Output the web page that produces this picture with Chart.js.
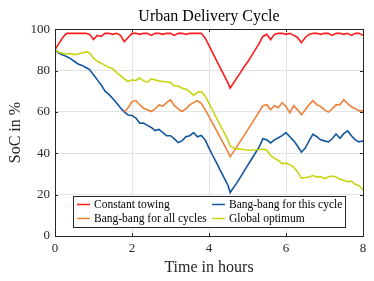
<!DOCTYPE html>
<html>
<head>
<meta charset="utf-8">
<script src="https://cdn.jsdelivr.net/npm/chart.js@4"></script>
<style>
  body { margin: 0; background: #fff; }
  canvas { display: block; }
</style>
</head>
<body>
<canvas id="myChart" width="374" height="281"></canvas>
<script>
// time in hours (4.55 is where the dips bottom out)
const hours = [0, 0.1, 0.2, 0.3, 0.4, 0.5, 0.6, 0.7, 0.8, 0.9,
  1.0, 1.1, 1.2, 1.3, 1.4, 1.5, 1.6, 1.7, 1.8, 1.9,
  2.0, 2.1, 2.2, 2.3, 2.4, 2.5, 2.6, 2.7, 2.8, 2.9,
  3.0, 3.1, 3.2, 3.3, 3.4, 3.5, 3.6, 3.7, 3.8, 3.9,
  4.0, 4.1, 4.2, 4.3, 4.4, 4.5, 4.55, 4.7, 4.8, 4.9,
  5.0, 5.1, 5.2, 5.3, 5.4, 5.5, 5.6, 5.7, 5.8, 5.9,
  6.0, 6.1, 6.2, 6.3, 6.4, 6.5, 6.6, 6.7, 6.8, 6.9,
  7.0, 7.1, 7.2, 7.3, 7.4, 7.5, 7.6, 7.7, 7.8, 7.9, 8.0];

const constantTowing = [90, 93, 96, 98, 98, 98, 98, 98, 98, 97.5,
  95, 97, 96.5, 98, 98, 97.5, 98, 97, 94, 96,
  98, 98, 97.5, 98, 98, 97, 98, 98, 97.5, 98,
  98, 97, 98, 98, 97.5, 98, 98, 98, 98, 95.8,
  92.1, 88.4, 84.7, 81.1, 77.4, 73.7, 71.5, 75.8, 78.5, 81.5,
  84, 87, 90, 93, 96.5, 97.5, 95, 97.5, 98, 98,
  97.5, 98, 97, 96, 93.5, 96, 97.5, 98, 98, 97.5,
  98, 98, 97, 98, 98, 97.5, 98, 97, 98, 98, 97];

const bangThisCycle = [90, 88.5, 87.5, 86.8, 85.8, 84.5, 83.2, 82.5, 81.5, 80.5,
  78, 75.5, 73, 70, 68.5, 66.5, 64.3, 62, 60, 58.5,
  58.3, 57, 54.5, 54.6, 53.5, 52.5, 51, 51.5, 50, 48.5,
  48.5, 47, 45.2, 46, 48, 48.5, 50, 48, 48.6, 46.5,
  42.5, 38.8, 35.2, 31.5, 27.9, 24.2, 21, 25.1, 28, 31,
  34, 37, 40, 43, 47, 46.5, 45, 46.5, 47.5, 48.5,
  50, 48, 46, 43.5, 40.5, 42.5, 46, 49.3, 48, 46.5,
  46, 45.5, 47, 49.3, 47.3, 49.5, 50.8, 48.5, 46.5, 45.5, 46];

const bangAllCycles = [null, null, null, null, null, null, null, null, null, null,
  null, null, null, null, null, null, null, null, 60, 62,
  65, 65.5, 63.5, 61.8, 61, 60.2, 61.5, 63.4, 62.8, 64.5,
  65.9, 63, 61.5, 60.2, 61.5, 63.4, 64.5, 65.4, 64.2, 61.1,
  57.7, 54.2, 50.8, 47.3, 43.9, 40.4, 38.4, 42.5, 45.4, 48.3,
  51.2, 54.1, 57, 60, 63, 63.5, 61, 63, 62, 64.5,
  62.6, 59.5, 63, 61, 58.6, 61, 63.5, 65.4, 63.5, 62.6,
  61, 59.9, 61.5, 63.4, 63.5, 65.9, 64, 62.5, 61.5, 60.5, 60.5];

const globalOptimum = [90, 88.8, 88.3, 88, 88.2, 87.7, 88, 88.5, 89, 88.5,
  86, 84.5, 83.5, 82.5, 81.5, 81, 79, 77.5, 76, 74.7,
  75.5, 75.2, 76.4, 75, 74.4, 76, 75.5, 75, 74.7, 74.5,
  74.3, 72.5, 72.5, 71.5, 71, 69.8, 68, 69.5, 69.8, 67.7,
  64.1, 60.5, 56.9, 53.3, 49.7, 46.1, 43.5, 42, 42, 41.8,
  41.5, 41.5, 41.7, 41.8, 42, 41.5, 39, 37.5, 36.5, 35,
  35.2, 34.5, 33.3, 31, 28, 28.3, 28.5, 29.2, 28.5, 28.7,
  27.8, 28.5, 29, 28.5, 27.5, 27, 26.3, 26.5, 25, 24.3, 22.3];

const seriesNames = ['Constant towing', 'Bang-bang for this cycle', 'Bang-bang for all cycles', 'Global optimum'];
const xTicks = [0, 2, 4, 6, 8];
const yTicks = [0, 20, 40, 60, 80, 100];

const axisColor = '#262626';
const serif = "'Liberation Serif', 'Times New Roman', serif";

function pts(values) {
  return hours.map((t, i) => ({ x: t, y: values[i] }));
}

// legend inside the axes, two columns, like the matlab one
const boxLegend = {
  id: 'boxLegend',
  afterDraw(chart) {
    const c = chart.ctx;
    const a = chart.chartArea;
    const x0 = a.left + 18, y0 = a.bottom - 40, w = 272, h = 31;
    c.save();
    c.fillStyle = '#fff';
    c.fillRect(x0, y0, w, h);
    c.strokeStyle = axisColor;
    c.lineWidth = 1;
    c.strokeRect(x0 + 0.5, y0 + 0.5, w, h);
    c.font = '11.5px ' + serif;
    c.textBaseline = 'middle';
    c.fillStyle = '#000';
    chart.data.datasets.forEach((ds, i) => {
      const col = i % 2, row = Math.floor(i / 2);
      const lx = x0 + 4 + col * 135;
      const ly = y0 + 8.5 + row * 14;
      c.strokeStyle = ds.borderColor;
      c.lineWidth = 1.5;
      c.beginPath();
      c.moveTo(lx, ly);
      c.lineTo(lx + 13, ly);
      c.stroke();
      c.fillText(ds.label, lx + 17, ly);
    });
    c.restore();
  }
};

// box round the axes plus inward tick marks
const axesBox = {
  id: 'axesBox',
  afterDatasetsDraw(chart) {
    const c = chart.ctx;
    const a = chart.chartArea;
    const xs = chart.scales.x, ys = chart.scales.y;
    c.save();
    c.strokeStyle = axisColor;
    c.lineWidth = 1;
    c.beginPath();
    xTicks.forEach(t => {
      const px = Math.round(xs.getPixelForValue(t)) + 0.5;
      c.moveTo(px, a.bottom); c.lineTo(px, a.bottom - 3);
      c.moveTo(px, a.top); c.lineTo(px, a.top + 3);
    });
    yTicks.forEach(t => {
      const py = Math.round(ys.getPixelForValue(t)) + 0.5;
      c.moveTo(a.left, py); c.lineTo(a.left + 3, py);
      c.moveTo(a.right, py); c.lineTo(a.right - 3, py);
    });
    c.stroke();
    c.strokeRect(Math.round(a.left) + 0.5, Math.round(a.top) + 0.5,
      Math.round(a.right - a.left), Math.round(a.bottom - a.top));
    c.restore();
  }
};

const ctx = document.getElementById('myChart').getContext('2d');
const myChart = new Chart(ctx, {
  type: 'line',
  data: {
    datasets: [{
      label: seriesNames[0],
      data: pts(constantTowing),
      borderColor: '#ff1a1a',
      order: 3
    }, {
      label: seriesNames[1],
      data: pts(bangThisCycle),
      borderColor: '#11569f',
      order: 2
    }, {
      label: seriesNames[2],
      data: pts(bangAllCycles),
      borderColor: '#ef8136',
      order: 1
    }, {
      label: seriesNames[3],
      data: pts(globalOptimum),
      borderColor: '#c9d414',
      order: 0
    }]
  },
  options: {
    responsive: false,
    animation: false,
    datasets: {
      line: { borderWidth: 1.6, pointRadius: 0, tension: 0, spanGaps: false }
    },
    layout: { padding: { left: 0, right: 11, top: 0, bottom: 0 } },
    plugins: {
      legend: { display: false },
      tooltip: { enabled: false },
      title: {
        display: true,
        fullSize: false,
        text: 'Urban Delivery Cycle',
        color: '#000',
        font: { family: serif, size: 16, weight: 'normal' },
        padding: { top: 7, bottom: 3 }
      }
    },
    scales: {
      x: {
        type: 'linear',
        min: 0,
        max: 8,
        afterFit: s => { s.height = 45; },
        afterBuildTicks: s => { s.ticks = xTicks.map(v => ({ value: v })); },
        ticks: { color: axisColor, padding: 5, font: { family: serif, size: 13 } },
        grid: { color: '#e3e3e3', drawTicks: false },
        border: { color: axisColor },
        title: {
          display: true,
          text: 'Time in hours',
          color: axisColor,
          font: { family: serif, size: 16 },
          padding: { top: 0, bottom: 4 }
        }
      },
      y: {
        min: 0,
        max: 100,
        afterFit: s => { s.width = 55; },
        afterBuildTicks: s => { s.ticks = yTicks.map(v => ({ value: v })); },
        ticks: { color: axisColor, padding: 5, font: { family: serif, size: 13 } },
        grid: { color: '#e3e3e3', drawTicks: false },
        border: { color: axisColor },
        title: {
          display: true,
          text: 'SoC in %',
          color: axisColor,
          font: { family: serif, size: 16 },
          padding: 6
        }
      }
    }
  },
  plugins: [axesBox, boxLegend]
});
</script>
</body>
</html>
